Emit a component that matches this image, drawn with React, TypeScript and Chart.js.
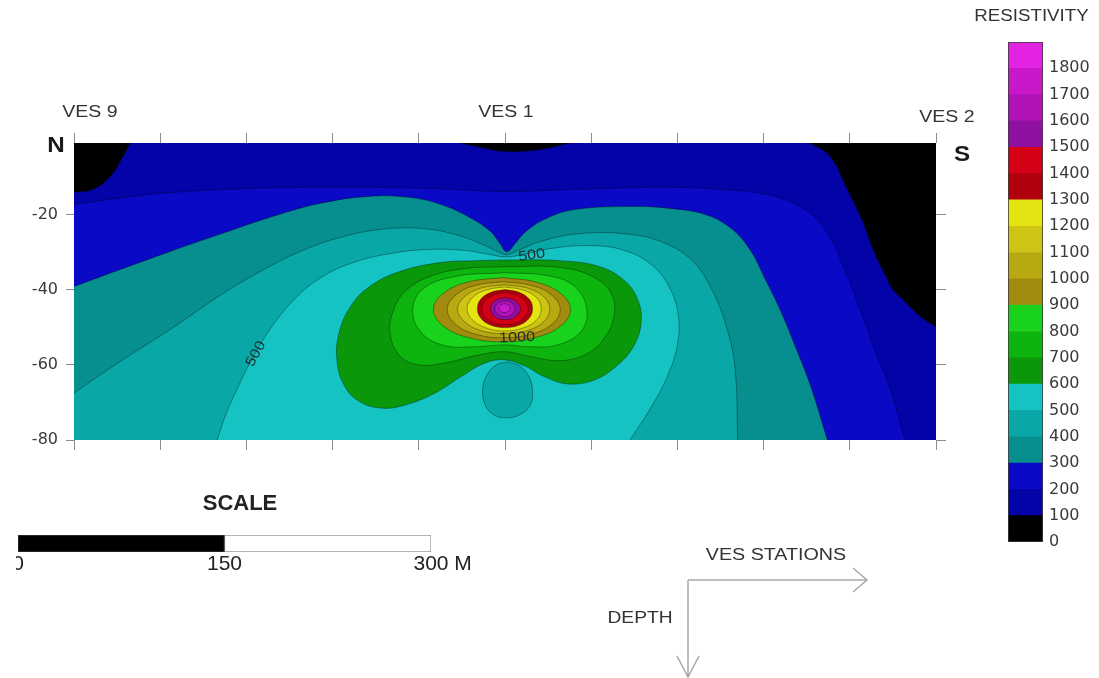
import React, { useEffect, useRef } from 'react';
import { Chart, registerables } from 'chart.js';

Chart.register(...registerables);
Chart.defaults.font.family = '"Liberation Sans", Arial, sans-serif';
Chart.defaults.color = '#333';

type Pt = [number, number];

// ---------- axes ----------
const X_MIN = 0;
const X_MAX = 10;
const DEPTH_MIN = -80;
const DEPTH_MAX = -1;
const X_TICKS = [0, 1, 2, 3, 4, 5, 6, 7, 8, 9, 10];
const DEPTH_TICKS = [-80, -60, -40, -20];
const STATION_NAMES = ['VES 9', 'VES 1', 'VES 2'];
const STATION_X = [0, 5, 10];

// ---------- colour scale (resistivity) ----------
const LEVEL_TICKS = [0, 100, 200, 300, 400, 500, 600, 700, 800, 900, 1000, 1100, 1200, 1300, 1400, 1500, 1600, 1700, 1800];
const LEVEL_STEP = 100;
const LEVEL_TOP = 1900;
const BAND_COLORS = [
  '#000000', '#0303a8', '#0909c6', '#078f8f', '#0aa7a7', '#15c3c3',
  '#0a980a', '#0db40d', '#18d21c', '#a28c10', '#b8a812', '#cec414',
  '#e4e412', '#b0000e', '#d40016', '#9010a2', '#b012b8', '#c818ca', '#e224e2',
];

// ---------- scale bar (metres) ----------
const SCALE_TICKS = [0, 150, 300];
const SCALE_PARTS = [150, 150];

// ---------- contour lines: [station position, depth] ----------
const CORNER_NW: Pt[] = [[0, -1]];
const CORNER_NE: Pt[] = [[10, -1]];
const CORNER_SW: Pt[] = [[0, -80]];

const C100_NW: Pt[] = [[0.65, -1], [0.57, -4.5], [0.42, -9.9], [0.22, -13.3], [0, -14.1]];
const C100_N: Pt[] = [[4.48, -1], [4.71, -2.1], [5.0, -3.2], [5.41, -2.7], [5.75, -1]];
const C100_NE: Pt[] = [[8.54, -1], [8.77, -4.5], [8.97, -13.3], [9.14, -21.3], [9.27, -29.3], [9.41, -36.0], [9.5, -40.0], [9.62, -42.7], [9.73, -45.3], [9.87, -48.0], [10, -49.9]];
const C200: Pt[] = [[0, -17.3], [0.42, -16.0], [1.0, -14.4], [2.04, -13.1], [3.2, -12.8], [4.13, -13.1], [5.0, -13.9], [5.87, -13.3], [6.8, -12.8], [7.49, -13.3], [8.07, -14.9], [8.48, -18.7], [8.75, -25.3], [8.94, -34.7], [9.12, -45.3], [9.29, -56.0], [9.47, -66.7], [9.64, -80]];
const C300: Pt[] = [[0, -39.2], [0.53, -34.7], [1.11, -29.9], [1.69, -25.3], [2.27, -20.8], [2.85, -17.1], [3.43, -15.2], [3.9, -15.5], [4.25, -17.3], [4.59, -20.8], [4.83, -24.5], [4.94, -27.7], [5.02, -29.9], [5.12, -27.7], [5.23, -24.8], [5.46, -21.3], [5.81, -18.7], [6.45, -17.9], [6.91, -18.4], [7.32, -20.0], [7.61, -23.5], [7.84, -29.3], [8.02, -37.3], [8.19, -45.3], [8.36, -54.7], [8.54, -65.3], [8.74, -80]];
const C400: Pt[] = [[0, -67.5], [0.53, -59.2], [1.11, -50.7], [1.69, -41.6], [2.16, -35.2], [2.62, -29.9], [3.09, -26.1], [3.55, -24.0], [4.01, -23.7], [4.42, -25.3], [4.71, -27.7], [4.92, -29.9], [5.02, -30.7], [5.15, -29.6], [5.41, -27.2], [5.87, -25.1], [6.45, -25.3], [6.86, -27.7], [7.18, -32.5], [7.4, -40.0], [7.58, -50.7], [7.67, -61.3], [7.7, -80]];
const C500: Pt[] = [[1.66, -80], [1.76, -73.3], [1.9, -66.1], [2.06, -58.7], [2.27, -50.7], [2.53, -43.2], [2.83, -37.3], [3.2, -33.1], [3.67, -30.4], [4.13, -29.3], [4.54, -29.6], [4.83, -30.7], [5.01, -31.3], [5.2, -30.7], [5.52, -29.1], [5.99, -28.3], [6.39, -29.6], [6.71, -33.6], [6.91, -39.5], [7.01, -46.7], [7.0, -54.7], [6.89, -62.7], [6.71, -70.7], [6.45, -80]];
const C500_ISLAND: Pt[] = [[5.03, -59.2], [5.17, -60.3], [5.28, -63.2], [5.32, -67.2], [5.29, -70.9], [5.17, -73.3], [5.02, -74.1], [4.87, -73.3], [4.77, -70.7], [4.74, -66.7], [4.79, -62.7], [4.9, -60.0], [5.03, -59.2]];
const C600: Pt[] = [[5.0, -32.1], [5.64, -32.3], [6.1, -33.9], [6.39, -37.7], [6.54, -42.7], [6.58, -48.5], [6.5, -54.7], [6.31, -60.0], [6.04, -64.0], [5.73, -65.1], [5.46, -63.2], [5.23, -60.3], [5.0, -58.7], [4.77, -59.5], [4.5, -63.0], [4.19, -67.5], [3.84, -70.7], [3.55, -71.5], [3.28, -69.3], [3.12, -64.8], [3.05, -58.7], [3.07, -52.0], [3.2, -44.8], [3.43, -39.2], [3.78, -35.2], [4.25, -32.8], [4.66, -32.3], [5.0, -32.1]];
const C700: Pt[] = [[5.0, -33.9], [5.64, -34.1], [6.04, -36.8], [6.24, -41.3], [6.26, -47.5], [6.14, -53.3], [5.93, -57.3], [5.64, -58.9], [5.31, -57.9], [5.0, -56.5], [4.65, -57.6], [4.3, -59.5], [3.99, -60.0], [3.78, -57.6], [3.67, -52.0], [3.7, -45.9], [3.84, -40.5], [4.13, -36.5], [4.54, -34.4], [5.0, -33.9]];
const C800: Pt[] = [[5.0, -35.5], [5.5, -36.3], [5.81, -39.2], [5.95, -45.3], [5.88, -51.2], [5.61, -54.7], [5.29, -55.2], [5.0, -54.7], [4.65, -55.2], [4.3, -54.9], [4.04, -51.7], [3.93, -45.9], [4.04, -40.0], [4.42, -36.5], [5.0, -35.5]];
const C900: Pt[] = [[4.97, -36.8], [5.36, -38.0], [5.65, -41.1], [5.76, -45.3], [5.65, -49.6], [5.36, -52.7], [4.97, -53.9], [4.57, -52.7], [4.28, -49.6], [4.17, -45.3], [4.28, -41.1], [4.57, -38.0], [4.97, -36.8]];
const C1000: Pt[] = [[4.98, -37.9], [5.31, -38.9], [5.55, -41.6], [5.64, -45.3], [5.55, -49.1], [5.31, -51.8], [4.98, -52.8], [4.65, -51.8], [4.42, -49.1], [4.33, -45.3], [4.42, -41.6], [4.65, -38.9], [4.98, -37.9]];
const C1100: Pt[] = [[4.99, -38.7], [5.26, -39.6], [5.45, -41.9], [5.52, -45.2], [5.45, -48.5], [5.26, -50.9], [4.99, -51.7], [4.72, -50.9], [4.53, -48.5], [4.45, -45.2], [4.53, -41.9], [4.72, -39.6], [4.99, -38.7]];
const C1200: Pt[] = [[4.99, -39.3], [5.21, -40.1], [5.37, -42.2], [5.42, -45.1], [5.37, -48.0], [5.21, -50.2], [4.99, -51.0], [4.78, -50.2], [4.62, -48.0], [4.56, -45.1], [4.62, -42.2], [4.78, -40.1], [4.99, -39.3]];
const C1300: Pt[] = [[5.0, -40.0], [5.16, -40.7], [5.28, -42.5], [5.32, -45.1], [5.28, -47.6], [5.16, -49.5], [5.0, -50.1], [4.84, -49.5], [4.72, -47.6], [4.68, -45.1], [4.72, -42.5], [4.84, -40.7], [5.0, -40.0]];
const C1400: Pt[] = [[5.0, -40.8], [5.13, -41.4], [5.23, -42.9], [5.27, -45.1], [5.23, -47.2], [5.13, -48.8], [5.0, -49.3], [4.87, -48.8], [4.77, -47.2], [4.73, -45.1], [4.77, -42.9], [4.87, -41.4], [5.0, -40.8]];
const C1500: Pt[] = [[5.0, -42.1], [5.12, -43.0], [5.18, -45.1], [5.12, -47.2], [5.0, -48.0], [4.88, -47.2], [4.83, -45.1], [4.88, -43.0], [5.0, -42.1]];
const C1600: Pt[] = [[5.0, -42.9], [5.08, -43.55], [5.12, -45.1], [5.08, -46.6], [5.0, -47.2], [4.92, -46.6], [4.88, -45.1], [4.92, -43.55], [5.0, -42.9]];
const C1700: Pt[] = [[4.99, -43.7], [5.04, -44.1], [5.06, -44.9], [5.04, -45.8], [4.99, -46.1], [4.95, -45.8], [4.93, -44.9], [4.95, -44.1], [4.99, -43.7]];

// side: 'above' = region with values above the level, 'below' = region under it
const CONTOURS = [
  { level: 200, side: 'above', pts: C200, close: CORNER_SW },
  { level: 100, side: 'below', pts: C100_NW, close: CORNER_NW },
  { level: 100, side: 'below', pts: C100_N, close: [] as Pt[] },
  { level: 100, side: 'below', pts: C100_NE, close: CORNER_NE },
  { level: 300, side: 'above', pts: C300, close: CORNER_SW },
  { level: 400, side: 'above', pts: C400, close: CORNER_SW },
  { level: 500, side: 'above', pts: C500, close: [] as Pt[] },
  { level: 500, side: 'below', pts: C500_ISLAND, close: [] as Pt[] },
  { level: 600, side: 'above', pts: C600, close: [] as Pt[] },
  { level: 700, side: 'above', pts: C700, close: [] as Pt[] },
  { level: 800, side: 'above', pts: C800, close: [] as Pt[] },
  { level: 900, side: 'above', pts: C900, close: [] as Pt[] },
  { level: 1000, side: 'above', pts: C1000, close: [] as Pt[] },
  { level: 1100, side: 'above', pts: C1100, close: [] as Pt[] },
  { level: 1200, side: 'above', pts: C1200, close: [] as Pt[] },
  { level: 1300, side: 'above', pts: C1300, close: [] as Pt[] },
  { level: 1400, side: 'above', pts: C1400, close: [] as Pt[] },
  { level: 1500, side: 'above', pts: C1500, close: [] as Pt[] },
  { level: 1600, side: 'above', pts: C1600, close: [] as Pt[] },
  { level: 1700, side: 'above', pts: C1700, close: [] as Pt[] },
];

const LABEL_TEXT = ['500', '1000', '500'];
const LABEL_X = [5.31, 5.14, 2.11];
const LABEL_DEPTH = [-30.9, -52.8, -57.1];
const LABEL_ANGLE = [-8, -2, -61];

const FONT = '"Liberation Sans", Arial, sans-serif';

function drawText(ctx: any, text: string, x: number, y: number, font: string, color: string, sx = 1, angleDeg = 0) {
  ctx.save();
  ctx.translate(x, y);
  if (angleDeg) ctx.rotate((angleDeg * Math.PI) / 180);
  ctx.scale(sx, 1);
  ctx.font = font;
  ctx.fillStyle = color;
  ctx.textAlign = 'center';
  ctx.textBaseline = 'middle';
  ctx.fillText(text, 0, 0);
  ctx.restore();
}

const contourFill = {
  id: 'contourFill',
  beforeDatasetsDraw(chart: any) {
    const { ctx, chartArea: a, scales } = chart;
    const xs = scales.x;
    const ys = scales.y;
    ctx.save();
    ctx.beginPath();
    ctx.rect(a.left, a.top, a.right - a.left, a.bottom - a.top);
    ctx.clip();
    ctx.fillStyle = BAND_COLORS[1];
    ctx.fillRect(a.left, a.top, a.right - a.left, a.bottom - a.top);
    chart.data.datasets.forEach((ds: any, i: number) => {
      const meta = chart.getDatasetMeta(i);
      const line = meta.dataset;
      if (!line) return;
      line.updateControlPoints(a, 'x');
      ctx.beginPath();
      line.path(ctx);
      (ds.closure || []).forEach((p: any) => ctx.lineTo(xs.getPixelForValue(p.x), ys.getPixelForValue(p.y)));
      ctx.closePath();
      ctx.fillStyle = ds.fillColor;
      ctx.fill();
    });
    ctx.restore();
  },
};

const STATION_NUDGE = [16, 1, 11];
const STATION_DROP = [0, 0, 5];

const mainDecor = {
  id: 'mainDecor',
  afterDraw(chart: any) {
    const { ctx, chartArea: a, scales } = chart;
    const xs = scales.x;
    const ys = scales.y;
    const small = `16px ${FONT}`;
    STATION_NAMES.forEach((name, i) => {
      drawText(ctx, name, xs.getPixelForValue(STATION_X[i]) + STATION_NUDGE[i], a.top - 30 + STATION_DROP[i], small, '#333', 1.22);
    });
    drawText(ctx, 'N', a.left - 18, a.top + 3, `bold 22px ${FONT}`, '#1a1a1a', 1.1);
    drawText(ctx, 'S', a.right + 26, a.top + 12, `bold 22px ${FONT}`, '#1a1a1a', 1.1);

    ctx.save();
    ctx.beginPath();
    ctx.rect(a.left, a.top, a.right - a.left, a.bottom - a.top);
    ctx.clip();
    LABEL_TEXT.forEach((t, i) => {
      drawText(ctx, t, xs.getPixelForValue(LABEL_X[i]), ys.getPixelForValue(LABEL_DEPTH[i]), `14px ${FONT}`, '#1e2b2b', 1.15, LABEL_ANGLE[i]);
    });
    ctx.restore();

    // orientation arrows
    const ox = 688;
    const oy = 580;
    ctx.save();
    ctx.strokeStyle = '#a9a9a9';
    ctx.lineWidth = 1.5;
    ctx.beginPath();
    ctx.moveTo(ox, oy);
    ctx.lineTo(ox + 179, oy);
    ctx.moveTo(ox + 165, oy - 12);
    ctx.lineTo(ox + 179, oy);
    ctx.lineTo(ox + 165, oy + 12);
    ctx.moveTo(ox, oy);
    ctx.lineTo(ox, oy + 97);
    ctx.moveTo(ox - 11, oy + 76);
    ctx.lineTo(ox, oy + 97);
    ctx.lineTo(ox + 11, oy + 76);
    ctx.stroke();
    ctx.restore();
    drawText(ctx, 'VES STATIONS', ox + 88, oy - 24, small, '#333', 1.23);
    drawText(ctx, 'DEPTH', ox - 48, oy + 39, small, '#333', 1.2);
  },
};

const colorbarDecor = {
  id: 'colorbarDecor',
  afterDraw(chart: any) {
    const { ctx, chartArea: a } = chart;
    ctx.save();
    ctx.strokeStyle = 'rgba(60,60,60,0.8)';
    ctx.lineWidth = 1;
    ctx.strokeRect(a.left + 0.5, a.top + 0.5, a.right - a.left - 1, a.bottom - a.top - 1);
    ctx.restore();
    drawText(ctx, 'RESISTIVITY', (a.left + a.right) / 2 + 6, a.top - 25, `16px ${FONT}`, '#333', 1.17);
  },
};

const scaleDecor = {
  id: 'scaleDecor',
  afterDraw(chart: any) {
    const { ctx, chartArea: a } = chart;
    drawText(ctx, 'SCALE', a.left + 222, a.top - 31, `bold 22px ${FONT}`, '#222', 1);
  },
};

const fixedTicks = (values: number[]) => (s: any) => {
  s.ticks = values.map((v) => ({ value: v }));
};

function mainConfig(): any {
  const datasets = CONTOURS.map((c) => ({
    data: c.pts.map(([x, y]) => ({ x, y })),
    closure: c.close.map(([x, y]) => ({ x, y })),
    fillColor: BAND_COLORS[c.side === 'above' ? c.level / LEVEL_STEP : c.level / LEVEL_STEP - 1],
    borderColor: 'rgba(0,0,0,0.42)',
    borderWidth: 0.8,
    pointRadius: 0,
    tension: 0.4,
    fill: false,
  }));
  const tickGrid = (len: number) => ({ drawOnChartArea: false, tickLength: len, color: '#8c8c8c' });
  return {
    type: 'line',
    data: { datasets },
    options: {
      responsive: false,
      animation: false,
      devicePixelRatio: 1,
      events: [],
      layout: { padding: 0 },
      plugins: { legend: { display: false }, tooltip: { enabled: false } },
      scales: {
        x: {
          type: 'linear', position: 'bottom', min: X_MIN, max: X_MAX,
          afterBuildTicks: fixedTicks(X_TICKS),
          ticks: { display: false }, grid: tickGrid(10), border: { display: false },
          afterFit: (s: any) => { s.height = 238; },
        },
        x2: {
          type: 'linear', axis: 'x', position: 'top', min: X_MIN, max: X_MAX,
          afterBuildTicks: fixedTicks(X_TICKS),
          ticks: { display: false }, grid: tickGrid(10), border: { display: false },
          afterFit: (s: any) => { s.height = 143; },
        },
        y: {
          type: 'linear', position: 'left', min: DEPTH_MIN, max: DEPTH_MAX,
          afterBuildTicks: fixedTicks(DEPTH_TICKS),
          ticks: { font: { family: '"DejaVu Sans", sans-serif', size: 16 }, color: '#3a3a3a', padding: 8, callback: (v: any) => String(v) },
          grid: tickGrid(8), border: { display: false },
          afterFit: (s: any) => { s.width = 74; },
        },
        y2: {
          type: 'linear', axis: 'y', position: 'right', min: DEPTH_MIN, max: DEPTH_MAX,
          afterBuildTicks: fixedTicks(DEPTH_TICKS),
          ticks: { display: false }, grid: tickGrid(10), border: { display: false },
          afterFit: (s: any) => { s.width = 163; },
        },
      },
    },
    plugins: [contourFill, mainDecor],
  };
}

function colorbarConfig(): any {
  return {
    type: 'bar',
    data: {
      labels: [''],
      datasets: BAND_COLORS.map((c) => ({
        data: [LEVEL_STEP], backgroundColor: c, borderWidth: 0, stack: 'cb', barPercentage: 1, categoryPercentage: 1,
      })),
    },
    options: {
      responsive: false, animation: false, devicePixelRatio: 1, events: [],
      layout: { padding: { left: 48, top: 42, bottom: 18, right: 0 } },
      plugins: { legend: { display: false }, tooltip: { enabled: false } },
      scales: {
        x: { stacked: true, display: false },
        y: {
          stacked: true, position: 'right', min: 0, max: LEVEL_TOP,
          afterBuildTicks: fixedTicks(LEVEL_TICKS),
          ticks: { font: { family: '"DejaVu Sans", sans-serif', size: 16 }, color: '#3a3a3a', padding: 6, callback: (v: any) => String(v) },
          grid: { display: false, drawTicks: false }, border: { display: false },
          afterFit: (s: any) => { s.width = 56; },
        },
      },
    },
    plugins: [colorbarDecor],
  };
}

function scaleConfig(): any {
  return {
    type: 'bar',
    data: {
      labels: [''],
      datasets: [
        { data: [SCALE_PARTS[0]], backgroundColor: '#000000', borderColor: '#333333', borderWidth: 1, borderSkipped: false, stack: 's', barPercentage: 1, categoryPercentage: 1 },
        { data: [SCALE_PARTS[1]], backgroundColor: '#ffffff', borderColor: '#999999', borderWidth: 1, borderSkipped: false, stack: 's', barPercentage: 1, categoryPercentage: 1 },
      ],
    },
    options: {
      indexAxis: 'y',
      responsive: false, animation: false, devicePixelRatio: 1, events: [],
      layout: { padding: { left: 10, right: 62, top: 55, bottom: 0 } },
      plugins: { legend: { display: false }, tooltip: { enabled: false } },
      scales: {
        x: {
          type: 'linear', stacked: true, position: 'bottom', min: SCALE_TICKS[0], max: SCALE_TICKS[SCALE_TICKS.length - 1],
          afterBuildTicks: fixedTicks(SCALE_TICKS),
          ticks: {
            font: { size: 21 }, color: '#222', padding: 0, maxRotation: 0, autoSkip: false,
            callback: (v: any) => (v === SCALE_TICKS[SCALE_TICKS.length - 1] ? `    ${v} M` : String(v)),
          },
          grid: { display: false, drawTicks: false }, border: { display: false },
          afterFit: (s: any) => { s.height = 38; },
        },
        y: { stacked: true, display: false },
      },
    },
    plugins: [scaleDecor],
  };
}

export default function App() {
  const mainRef = useRef<HTMLCanvasElement>(null);
  const barRef = useRef<HTMLCanvasElement>(null);
  const scaleRef = useRef<HTMLCanvasElement>(null);

  useEffect(() => {
    const charts: Chart[] = [];
    if (mainRef.current) charts.push(new Chart(mainRef.current, mainConfig()));
    if (barRef.current) charts.push(new Chart(barRef.current, colorbarConfig()));
    if (scaleRef.current) charts.push(new Chart(scaleRef.current, scaleConfig()));
    return () => charts.forEach((c) => c.destroy());
  }, []);

  const abs = (left: number, top: number, width: number, height: number): React.CSSProperties => ({
    position: 'absolute', left, top, width, height,
  });

  return (
    <div style={{ position: 'fixed', left: 0, top: 0, width: 1099, height: 678, background: '#ffffff', overflow: 'hidden' }}>
      <canvas ref={mainRef} width={1099} height={678} style={abs(0, 0, 1099, 678)} />
      <canvas ref={barRef} width={139} height={560} style={abs(960, 0, 139, 560)} />
      <div style={{ ...abs(16, 480, 480, 110), overflow: 'hidden' }}>
        <canvas ref={scaleRef} width={485} height={110} style={abs(-8, 0, 485, 110)} />
      </div>
    </div>
  );
}
